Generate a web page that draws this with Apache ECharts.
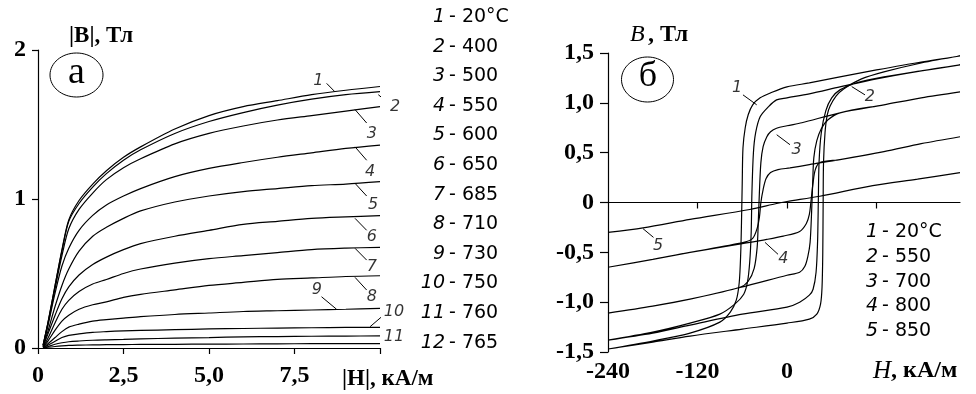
<!DOCTYPE html>
<html><head><meta charset="utf-8">
<script src="https://cdn.jsdelivr.net/npm/echarts@6/dist/echarts.min.js"></script>
<style>html,body{margin:0;padding:0;background:#fff}#c{width:976px;height:394px}</style>
</head><body><div id="c"></div>
<script>
// ---------- Panel (a): |B| vs |H| ----------
const hA = [0.15,0.3,0.5,0.7,0.9,1.2,1.6,2,2.5,3,4,5,6,7,8,9,10];
const bA1  = [0.02,0.18,0.42,0.66,0.86,0.99,1.10,1.19,1.28,1.35,1.47,1.56,1.62,1.66,1.70,1.73,1.755];
const bA2  = [0.02,0.18,0.42,0.65,0.85,0.97,1.08,1.17,1.26,1.33,1.44,1.52,1.58,1.63,1.67,1.70,1.72];
const bA3  = [0.02,0.17,0.40,0.62,0.80,0.93,1.04,1.13,1.21,1.27,1.37,1.44,1.49,1.53,1.56,1.59,1.62];
const bA4  = [0.01,0.16,0.37,0.55,0.67,0.79,0.89,0.96,1.02,1.07,1.15,1.205,1.245,1.28,1.31,1.34,1.362];
const bA5  = [0.01,0.12,0.28,0.42,0.53,0.65,0.75,0.81,0.87,0.92,0.98,1.02,1.05,1.07,1.09,1.10,1.116];
const bA6  = [0.01,0.10,0.22,0.33,0.41,0.49,0.56,0.61,0.66,0.70,0.75,0.79,0.83,0.85,0.87,0.88,0.888];
const bA7  = [0.005,0.07,0.17,0.26,0.32,0.38,0.43,0.46,0.50,0.53,0.57,0.60,0.62,0.64,0.66,0.67,0.676];
const bA8  = [0.005,0.05,0.12,0.18,0.22,0.26,0.29,0.31,0.34,0.36,0.39,0.42,0.44,0.46,0.47,0.48,0.485];
const bA9  = [0,0.03,0.07,0.11,0.14,0.16,0.18,0.19,0.20,0.21,0.225,0.235,0.245,0.25,0.255,0.26,0.266];
const bA10 = [0,0.02,0.045,0.07,0.085,0.095,0.105,0.11,0.115,0.118,0.123,0.128,0.131,0.134,0.136,0.138,0.139];
const bA11 = [0,0.01,0.025,0.035,0.042,0.047,0.052,0.055,0.058,0.061,0.066,0.07,0.075,0.077,0.079,0.08,0.081];
const bA12 = [0,0.005,0.01,0.014,0.017,0.019,0.021,0.022,0.023,0.024,0.025,0.026,0.027,0.028,0.029,0.03,0.03];
const curvesA = [bA1,bA2,bA3,bA4,bA5,bA6,bA7,bA8,bA9,bA10,bA11,bA12];
const legendNumA = ['1','2','3','4','5','6','7','8','9','10','11','12'];
const legendValA = ['20°C','400','500','550','600','650','685','710','730','750','760','765'];
const xTicksA = [0,2.5,5,7.5,10];
const yTicksA = [0,1,2];
// curve callouts (data coordinates): text, text position, leader start, leader end
const calloutsA = [
  ['1',[8.2,1.79],[8.44,1.776],[8.68,1.72]],
  ['2',[10.44,1.62],[9.95,1.70],[10.24,1.645]],
  ['3',[9.76,1.44],[9.27,1.60],[9.61,1.51]],
  ['4',[9.71,1.18],[9.27,1.35],[9.61,1.26]],
  ['5',[9.80,0.96],[9.27,1.105],[9.61,1.02]],
  ['6',[9.76,0.747],[9.27,0.87],[9.61,0.79]],
  ['7',[9.76,0.546],[9.27,0.669],[9.61,0.59]],
  ['8',[9.76,0.344],[9.27,0.474],[9.61,0.389]],
  ['9',[8.15,0.389],[8.29,0.344],[8.73,0.26]],
  ['10',[10.41,0.244],[9.71,0.143],[10.05,0.21]],
  ['11',[10.41,0.076],null,null]
];

// ---------- Panel (б): hysteresis loops B vs H ----------
const loop1Up = [[232,1.47],[180,1.41],[120,1.33],[71,1.26],[30,1.20],[0,1.16],[-22,1.10],[-36,1.05],[-46,0.98],[-52,0.88],[-56,0.75],[-59,0.55],[-60,0.2],[-61,-0.2],[-62,-0.5],[-64,-0.8],[-68,-0.98],[-76,-1.1],[-90,-1.2],[-130,-1.31],[-180,-1.39],[-240,-1.47]];
const loop1Lo = [[-240,-1.47],[-180,-1.40],[-130,-1.34],[-60,-1.27],[0,-1.21],[30,-1.17],[40,-1.12],[45,-1.02],[47,-0.85],[48,-0.5],[48.5,0],[49,0.4],[51,0.7],[54,0.88],[58,0.97],[66,1.07],[76,1.14],[100,1.24],[130,1.31],[180,1.40],[232,1.47]];
const loop2Up = [[232,1.38],[180,1.32],[120,1.24],[71,1.16],[30,1.09],[0,1.05],[-14,1.03],[-25,0.96],[-36,0.86],[-42,0.7],[-45,0.5],[-47,0.1],[-48,-0.3],[-50,-0.6],[-53,-0.8],[-58,-0.92],[-70,-1.02],[-90,-1.12],[-130,-1.21],[-180,-1.30],[-240,-1.38]];
const loop2Lo = [[-240,-1.38],[-180,-1.31],[-130,-1.23],[-60,-1.12],[0,-1.05],[17,-1.0],[30,-0.93],[35,-0.87],[39,-0.7],[41,-0.4],[42,0],[43,0.4],[46,0.7],[52,0.92],[60,1.05],[71,1.13],[93,1.20],[130,1.26],[180,1.32],[232,1.38]];
const loop3Up = [[232,1.11],[180,1.05],[130,0.98],[71,0.90],[20,0.80],[0,0.77],[-14,0.745],[-22,0.71],[-27,0.66],[-32,0.56],[-35,0.4],[-37,0.1],[-38.5,-0.2],[-40,-0.45],[-44,-0.66],[-52,-0.79],[-63,-0.85],[-130,-0.97],[-180,-1.04],[-240,-1.11]];
const loop3Lo = [[-240,-1.11],[-180,-1.04],[-130,-0.97],[-63,-0.853],[0,-0.73],[17,-0.70],[24,-0.64],[28,-0.54],[31,-0.4],[33,-0.1],[34.5,0.2],[36,0.45],[40,0.62],[46,0.74],[55,0.83],[71,0.90],[130,0.98],[180,1.05],[232,1.11]];
const loop4Up = [[232,0.66],[180,0.59],[130,0.51],[71,0.43],[30,0.38],[4,0.347],[-12,0.33],[-22,0.30],[-28,0.24],[-32,0.13],[-35,0.0],[-37,-0.15],[-40,-0.26],[-46,-0.36],[-58,-0.40],[-130,-0.50],[-180,-0.57],[-240,-0.65]];
const loop4Lo = [[-240,-0.65],[-180,-0.57],[-130,-0.50],[-58,-0.41],[-27,-0.37],[-5,-0.337],[17,-0.29],[26,-0.21],[30,-0.12],[32,0.0],[35,0.2],[38,0.33],[44,0.40],[71,0.43],[130,0.51],[180,0.59],[232,0.66]];
const loop5 = [[-240,-0.30],[-193,-0.255],[-130,-0.17],[-50,-0.07],[-14,-0.01],[0,0.01],[44,0.063],[115,0.17],[175,0.235],[232,0.30]];
const loopsB = [loop1Up.concat(loop1Lo), loop2Up.concat(loop2Lo), loop3Up.concat(loop3Lo), loop4Up.concat(loop4Lo), loop5];
const legendNumB = ['1','2','3','4','5'];
const legendValB = ['20°C','550','700','800','850'];
const xTicksB = [-240,-120,0,120];
const xLabelsB = [-240,-120,0];
const calloutsB = [
  ['1',[-67,1.15],[-59,1.08],[-40.6,0.98]],
  ['2',[111,1.063],[86.8,1.163],[104.6,1.08]],
  ['3',[13,0.53],[-13.8,0.68],[4,0.58]],
  ['4',[-5,-0.57],[-29.5,-0.40],[-12,-0.52]],
  ['5',[-173,-0.437],[-193,-0.263],[-179,-0.35]]
];

// ---------- build ----------
const SERIF = '"Liberation Serif","Times New Roman",serif';
const SANS = '"DejaVu Sans",Verdana,sans-serif';
const lineStyle = {color:'#000', width:1.2};
const axisLine = {show:true, onZero:true, lineStyle:{color:'#000', width:1.2}};
const tick = {show:true, length:6, lineStyle:{color:'#000', width:1.2}};
const comma = v => v === 0 ? '0' : v.toFixed(1).replace('.', ',');
const tickFont = {color:'#000', fontFamily:SERIF, fontSize:24, fontWeight:'bold'};

const series = [];
curvesA.forEach((c, i) => {
  series.push({type:'line', xAxisIndex:0, yAxisIndex:0, data:hA.map((h,j)=>[h,c[j]]),
    showSymbol:false, smooth:0.3, lineStyle, silent:true, z:2});
});
loopsB.forEach(l => {
  series.push({type:'line', xAxisIndex:1, yAxisIndex:1, data:l, showSymbol:false,
    smooth:0.3, lineStyle, silent:true, z:2});
});
function addCallouts(list, xi, yi) {
  list.forEach(c => {
    if (c[2]) series.push({type:'line', xAxisIndex:xi, yAxisIndex:yi, data:[c[2],c[3]],
      showSymbol:false, lineStyle:{color:'#000', width:1}, silent:true, clip:false});
  });
  series.push({type:'scatter', xAxisIndex:xi, yAxisIndex:yi, symbolSize:0, clip:false, silent:true,
    data:list.map(c => ({name:c[0], value:c[1]})),
    label:{show:true, position:'inside', formatter:p=>p.name, color:'#000',
      fontFamily:SANS, fontStyle:'italic', fontSize:16}});
}
addCallouts(calloutsA, 0, 0);
addCallouts(calloutsB, 1, 1);

const graphic = [];
// circled panel letters
graphic.push({type:'ellipse', shape:{cx:76.5, cy:75, rx:26.5, ry:22}, style:{fill:null, stroke:'#000', lineWidth:1}});
graphic.push({type:'text', x:76.5, y:73, style:{text:'а', font:'38px '+SERIF, fill:'#000', align:'center', verticalAlign:'middle'}});
graphic.push({type:'ellipse', shape:{cx:647.5, cy:79.5, rx:26, ry:22.5}, style:{fill:null, stroke:'#000', lineWidth:1}});
graphic.push({type:'text', x:648, y:77, style:{text:'б', font:'36px '+SERIF, fill:'#000', align:'center', verticalAlign:'middle'}});
// axis titles
graphic.push({type:'text', x:69, y:36, style:{text:'|B|, Тл', font:'bold 23px '+SERIF, fill:'#000', align:'left', verticalAlign:'middle'}});
graphic.push({type:'text', x:342, y:379, style:{text:'|H|, кА/м', font:'bold 23px '+SERIF, fill:'#000', align:'left', verticalAlign:'middle'}});
graphic.push({type:'text', x:630, y:35, style:{
  text:'{i|B} {b|, Тл}', fill:'#000', align:'left', verticalAlign:'middle',
  rich:{i:{fontFamily:SERIF, fontStyle:'italic', fontSize:24}, b:{fontFamily:SERIF, fontWeight:'bold', fontSize:24}}}});
graphic.push({type:'text', x:873, y:371, style:{
  text:'{i|H}{b|, кА/м}', fill:'#000', align:'left', verticalAlign:'middle',
  rich:{i:{fontFamily:SERIF, fontStyle:'italic', fontSize:25}, b:{fontFamily:SERIF, fontWeight:'bold', fontSize:24}}}});
// legends
legendNumA.forEach((n, i) => {
  const y = 17 + i * 29.6;
  graphic.push({type:'text', x:445, y, style:{text:n, font:'italic 19px '+SANS, fill:'#000', align:'right', verticalAlign:'middle'}});
  graphic.push({type:'text', x:449, y, style:{text:'- ' + legendValA[i], font:'19px '+SANS, fill:'#000', align:'left', verticalAlign:'middle'}});
});
legendNumB.forEach((n, i) => {
  const y = 232 + i * 24.8;
  graphic.push({type:'text', x:878, y, style:{text:n, font:'italic 19px '+SANS, fill:'#000', align:'right', verticalAlign:'middle'}});
  graphic.push({type:'text', x:882, y, style:{text:'- ' + legendValB[i], font:'19px '+SANS, fill:'#000', align:'left', verticalAlign:'middle'}});
});

const option = {
  animation:false,
  backgroundColor:'#fff',
  grid:[
    {left:38, top:50, width:342, height:298, outerBoundsMode:'none', containLabel:false},
    {left:608, top:53, width:352, height:299, outerBoundsMode:'none', containLabel:false}
  ],
  xAxis:[
    {type:'value', gridIndex:0, min:0, max:10, interval:2.5, axisLine, splitLine:{show:false},
      axisTick:{...tick, customValues:xTicksA},
      axisLabel:{customValues:xTicksA, margin:16, ...tickFont,
        formatter:v => v === 10 ? '' : comma(v)}},
    {type:'value', gridIndex:1, min:-240, max:232, axisLine, splitLine:{show:false},
      axisTick:{...tick, customValues:xTicksB.filter(v=>v!==-240)},
      axisLabel:{show:false}},
    {type:'value', gridIndex:1, min:-240, max:232, position:'bottom',
      axisLine:{show:false, onZero:false}, axisTick:{show:false}, splitLine:{show:false},
      axisLabel:{customValues:xLabelsB, margin:8, ...tickFont,
        formatter:v => String(v)}}
  ],
  yAxis:[
    {type:'value', gridIndex:0, min:0, max:2, interval:1, axisLine:{show:true, onZero:false, lineStyle:{color:'#000', width:1.2}},
      axisTick:{...tick, customValues:yTicksA}, splitLine:{show:false},
      axisLabel:{customValues:yTicksA, margin:12, ...tickFont, formatter:v=>String(v)}},
    {type:'value', gridIndex:1, min:-1.5, max:1.5, interval:0.5, axisLine:{show:true, onZero:false, lineStyle:{color:'#000', width:1.2}},
      axisTick:{...tick, length:8}, splitLine:{show:false},
      axisLabel:{margin:14, ...tickFont, formatter:comma}}
  ],
  series,
  graphic
};
const chart = echarts.init(document.getElementById('c'));
chart.setOption(option);
</script>
</body></html>
